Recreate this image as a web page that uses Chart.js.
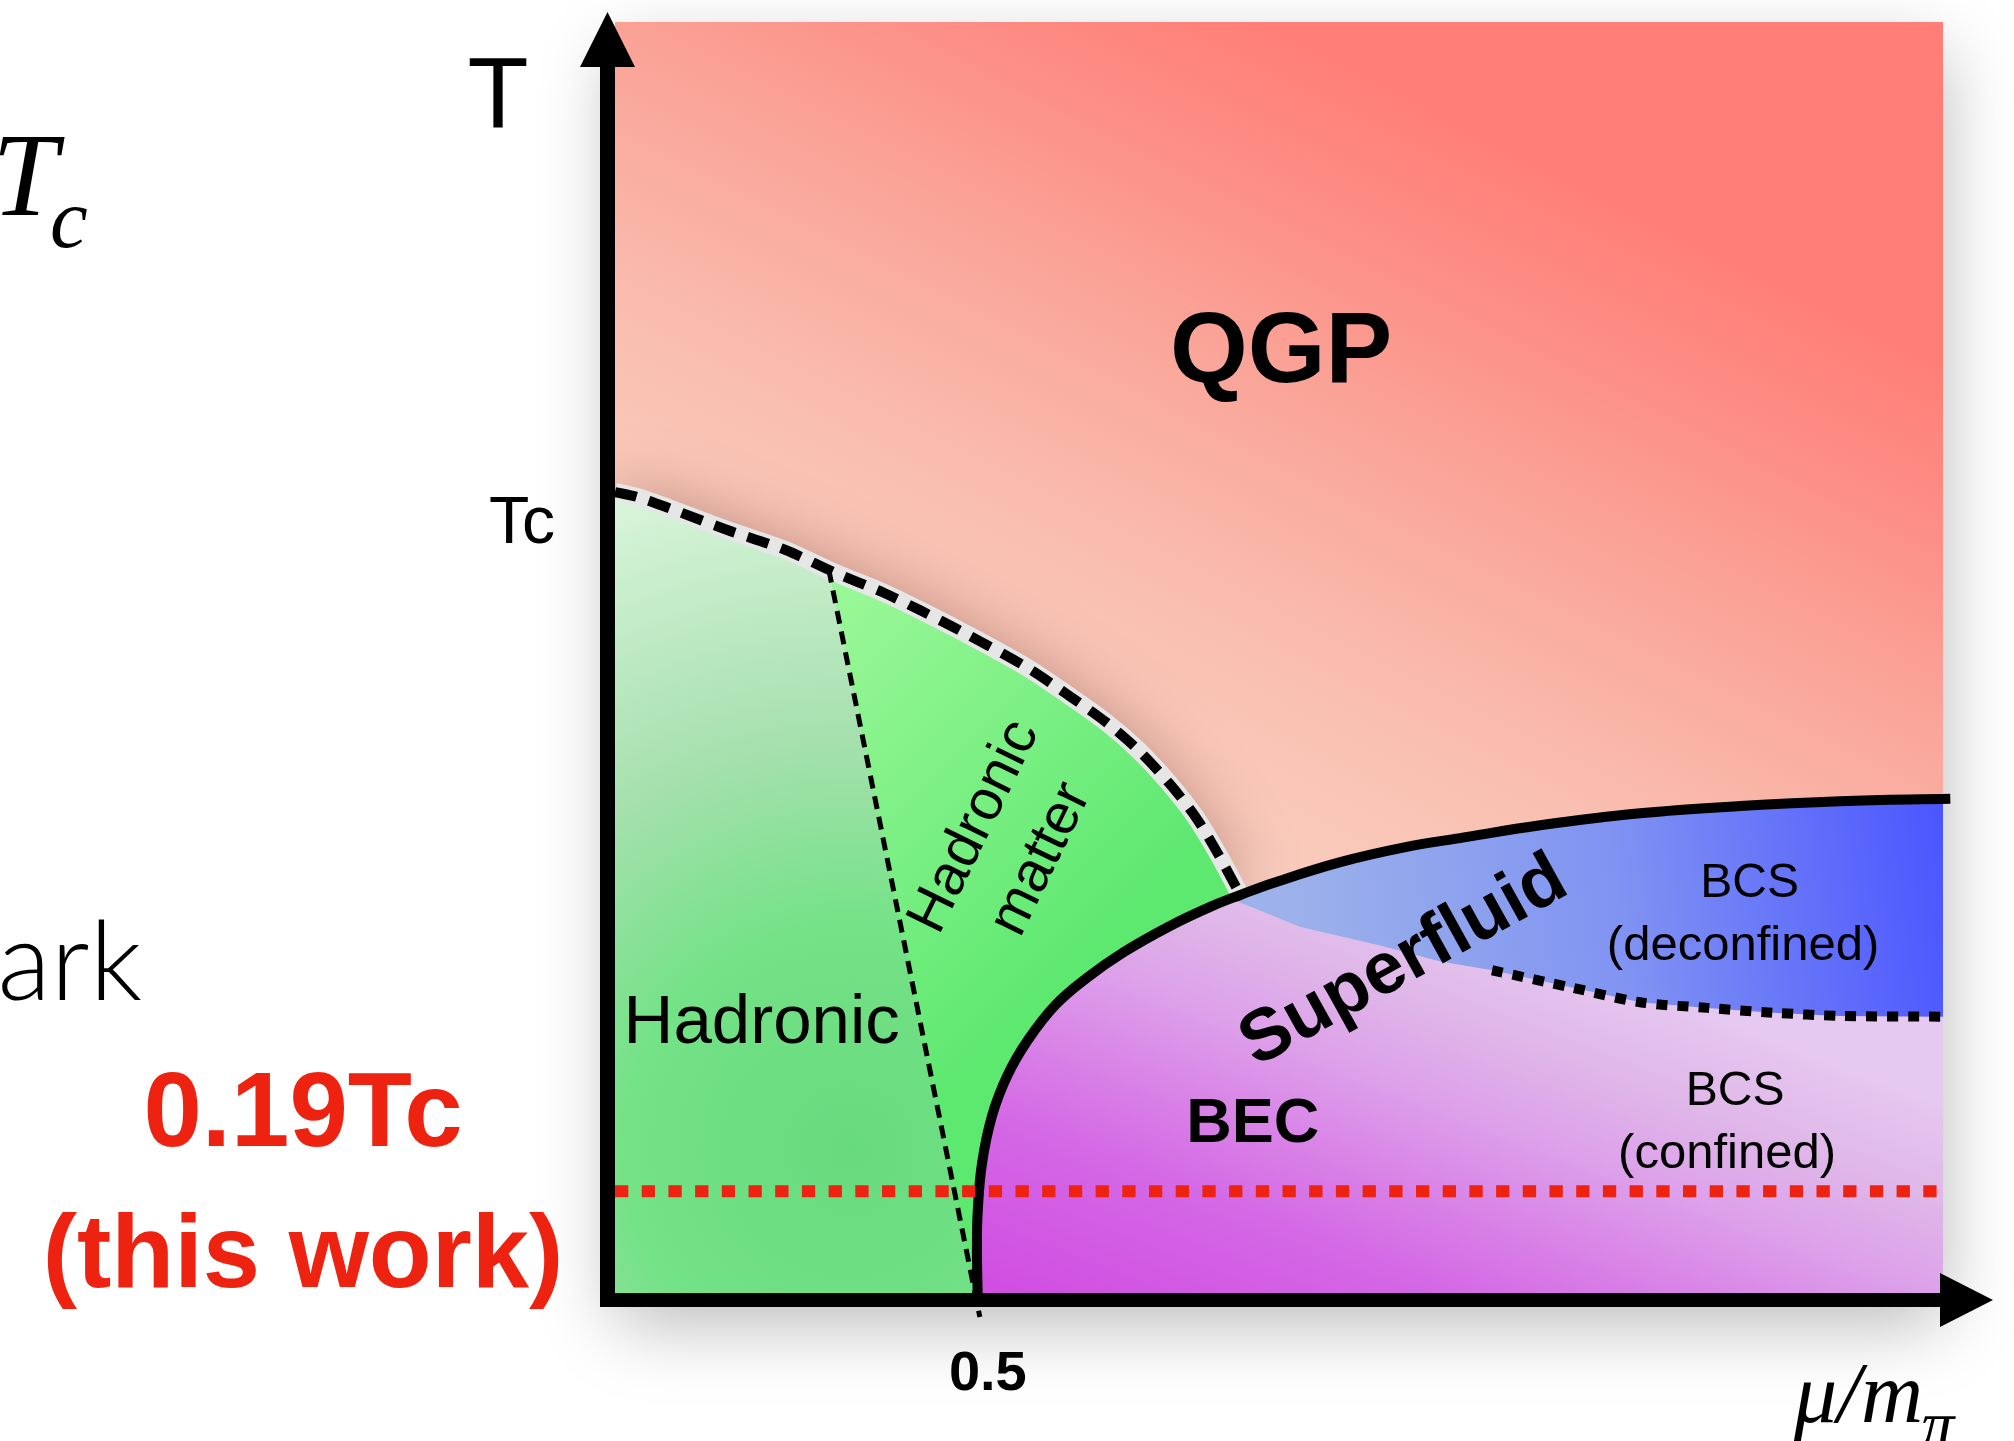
<!DOCTYPE html>
<html><head><meta charset="utf-8">
<script src="https://cdn.jsdelivr.net/npm/chart.js@4.4.1/dist/chart.umd.min.js"></script>
<style>html,body{margin:0;padding:0;background:#fff;overflow:hidden}canvas{display:block}</style>
</head><body>
<canvas id="c" width="2014" height="1441" style="width:2014px;height:1441px"></canvas>
<script>
// ---------- data (mu / m_pi  vs  T / Tc) ----------
const muMax = 1.82;
const tMax = 1.587;

// crossover (dashed) line from the T axis to the superfluid boundary
const crossMu = [0.000, 0.030, 0.074, 0.153, 0.233, 0.300, 0.369, 0.417, 0.471, 0.563, 0.625, 0.674, 0.717, 0.759, 0.796, 0.826, 0.851, 0.857];
const crossT  = [1.000, 0.994, 0.980, 0.953, 0.928, 0.900, 0.874, 0.853, 0.828, 0.782, 0.744, 0.712, 0.678, 0.637, 0.594, 0.549, 0.507, 0.497];

// superfluid (BEC) solid boundary
const becMu = [0.497, 0.496, 0.497, 0.503, 0.517, 0.538, 0.566, 0.604, 0.646, 0.698, 0.760, 0.818, 0.857, 0.902, 0.994, 1.085, 1.158, 1.268, 1.405, 1.542, 1.679, 1.830];
const becT  = [0.000, 0.054, 0.100, 0.162, 0.222, 0.272, 0.316, 0.360, 0.393, 0.426, 0.458, 0.483, 0.497, 0.512, 0.538, 0.557, 0.568, 0.584, 0.599, 0.608, 0.614, 0.617];

// lower edge of the deconfined BCS region (dotted part starts at mu = 1.202)
const bcsMu = [0.850, 0.939, 1.048, 1.131, 1.202, 1.313, 1.405, 1.497, 1.587, 1.679, 1.820];
const bcsT  = [0.490, 0.457, 0.434, 0.414, 0.403, 0.381, 0.363, 0.356, 0.350, 0.346, 0.345];
const bcsDottedFrom = 1.202;

// hadronic / hadronic-matter separation (thin dashed)
const hadronMu = [0.293, 0.500];
const hadronT  = [0.903, -0.030];

// this work: T = 0.19 Tc line (position on the schematic axis)
const thisWorkT = 0.127;

// ticks
const xTicks = [0.5];   const xTickLabels = ['0.5'];
const yTicks = [1.0];   const yTickLabels = ['Tc'];

// region labels (anchored in data coordinates)
const labelText = ['QGP', 'Hadronic', 'BEC', 'BCS', '(deconfined)', 'BCS', '(confined)'];
const labelMu   = [0.913, 0.201, 0.874, 1.555, 1.546, 1.535, 1.524];
const labelT    = [1.137, 0.312, 0.1885, 0.494, 0.416, 0.235, 0.156];

// ---------- build geometry from the arrays ----------
const P = (mus, ts) => mus.map((m, i) => ({x: m, y: ts[i]}));
const cross = P(crossMu, crossT);
const bec = P(becMu, becT);
const bcs = P(bcsMu, bcsT);
const hadronLine = P(hadronMu, hadronT);
const J = becMu.indexOf(crossMu[crossMu.length - 1]);           // junction index
const hb = {x: hadronMu[0] + (hadronMu[1] - hadronMu[0]) * (hadronT[0] / (hadronT[0] - hadronT[1])), y: 0};

const qgpPoly = [{x: 0, y: 0}, {x: 0, y: tMax}, {x: muMax, y: tMax}, {x: muMax, y: 0}];
const hadronPoly = [{x: 0, y: 0}, ...cross, ...bec.slice(0, J).reverse()];
const wedgePoly = [hadronLine[0], ...cross.filter(p => p.x > hadronMu[0]), ...bec.slice(0, J).reverse(), hb];
const pinkPoly = [...bec.slice(0, J + 1), ...bcs, {x: muMax, y: 0}];
const bluePoly = [...bec.slice(J), ...bcs.slice().reverse()];
const bcsDotted = bcs.filter(p => p.x >= bcsDottedFrom);
const redLine = [{x: 0, y: thisWorkT}, {x: muMax, y: thisWorkT}];

// ---------- gradients ----------
function lin(ctx, a, b, stops) {
  const ch = ctx.chart; if (!ch.chartArea) return stops[0][1];
  const X = ch.scales.x, Y = ch.scales.y;
  const g = ch.ctx.createLinearGradient(X.getPixelForValue(a[0]), Y.getPixelForValue(a[1]), X.getPixelForValue(b[0]), Y.getPixelForValue(b[1]));
  stops.forEach(s => g.addColorStop(s[0], s[1]));
  return g;
}
function rad(ctx, c, r, stops) {
  const ch = ctx.chart; if (!ch.chartArea) return stops[0][1];
  const X = ch.scales.x, Y = ch.scales.y;
  const px = X.getPixelForValue(c[0]), py = Y.getPixelForValue(c[1]);
  const g = ch.ctx.createRadialGradient(px, py, 0, px, py, r);
  stops.forEach(s => g.addColorStop(s[0], s[1]));
  return g;
}

const fillDs = (data, bg) => ({data, fill: 'shape', backgroundColor: bg, borderColor: 'rgba(0,0,0,0)', borderWidth: 0, pointRadius: 0, tension: 0});

const datasets = [
  fillDs(qgpPoly, c => lin(c, [0.459, 0.665], [0.952, 1.554], [[0, '#F9CFC0'], [0.3, '#F9BFB0'], [0.6, '#FAA599'], [0.8, '#FC9087'], [1, '#FF7F78']])),
  fillDs(hadronPoly, c => rad(c, [0.322, 0.179], 750, [[0, '#68DA7E'], [0.3, '#74E287'], [0.55, '#A6E0AE'], [0.9, '#D6F3D8'], [1, '#DCF5DE']])),
  fillDs(wedgePoly, c => lin(c, [0.322, 0.865], [0.733, 0.491], [[0, '#98F796'], [1, '#5DE870']])),
  fillDs(pinkPoly, c => lin(c, [1.054, -0.177], [1.311, 0.426], [[0, '#D04FE1'], [0.3, '#D468E5'], [0.45, '#D880E6'], [0.65, '#DDA2EA'], [0.8, '#DFB6E8'], [1, '#E6C9F0']])),
  fillDs(bluePoly, c => lin(c, [0.911, 0.516], [1.820, 0.628], [[0, '#9DB2EA'], [0.5, '#8093F2'], [1, '#4B55FF']])),
  {data: cross, borderColor: '#E6E6E6', borderWidth: 18, pointRadius: 0, tension: 0.3, fill: false},
  {data: cross, borderColor: '#000', borderWidth: 10, borderDash: [22, 13], borderCapStyle: 'butt', pointRadius: 0, tension: 0.3, fill: false},
  {data: hadronLine, borderColor: '#000', borderWidth: 5, borderDash: [13, 8], pointRadius: 0, tension: 0, fill: false, clip: false},
  {data: bcsDotted, borderColor: '#000', borderWidth: 10, borderDash: [11, 10], pointRadius: 0, tension: 0.3, fill: false},
  {data: bec, borderColor: '#000', borderWidth: 10, pointRadius: 0, tension: 0.4, fill: false, clip: false},
  {data: redLine, borderColor: '#EE2211', borderWidth: 12, borderDash: [13.3, 13.4], pointRadius: 0, tension: 0, fill: false}
];
datasets.forEach((d, i) => { d.order = 100 - i; d.pointHoverRadius = 0; });

const SANS = '"Liberation Sans", "Helvetica Neue", Helvetica, Arial, sans-serif';
const SERIF = '"Liberation Serif", "Times New Roman", Times, serif';
const labelFont = ['bold 100px', '69px', 'bold 63px', '48px', '49px', '48px', '49px'];

function txt(ctx, s, x, y, font, color, align, base, rot) {
  ctx.save();
  ctx.font = font; ctx.fillStyle = color || '#000';
  ctx.textAlign = align || 'center'; ctx.textBaseline = base || 'alphabetic';
  ctx.translate(x, y); if (rot) ctx.rotate(rot * Math.PI / 180);
  ctx.fillText(s, 0, 0);
  ctx.restore();
}

const deco = {
  id: 'deco',
  beforeDatasetsDraw(chart) {
    const {ctx, chartArea: a} = chart;
    ctx.save();
    ctx.shadowColor = 'rgba(0,0,0,0.28)';
    ctx.shadowBlur = 70; ctx.shadowOffsetY = 30;
    ctx.fillStyle = '#fff';
    ctx.fillRect(a.left, a.top, a.right - a.left, a.bottom - a.top);
    ctx.restore();
  },
  afterDatasetDraw(chart, args) {
    if (args.index === 0) { chart.ctx.shadowColor = 'rgba(120,70,60,0.55)'; chart.ctx.shadowBlur = 70; }
  },
  beforeDatasetDraw(chart, args) {
    if (args.index === 1) { chart.ctx.shadowColor = 'rgba(0,0,0,0)'; chart.ctx.shadowBlur = 0; }
  },
  afterDatasetsDraw(chart) {
    const {ctx, chartArea: a} = chart;
    const X = chart.scales.x, Y = chart.scales.y;
    const L = a.left, B = a.bottom;
    ctx.save();
    ctx.fillStyle = '#000';
    // T axis with arrow
    ctx.fillRect(L - 15, a.top + 40, 15, B + 14 - (a.top + 40));
    ctx.beginPath(); ctx.moveTo(L - 7.5, a.top - 10); ctx.lineTo(L - 35, a.top + 45); ctx.lineTo(L + 20, a.top + 45); ctx.closePath(); ctx.fill();
    // mu axis with arrow
    ctx.fillRect(L - 15, B, a.right + 2 - (L - 15), 14);
    ctx.beginPath(); ctx.moveTo(a.right + 50, B + 7); ctx.lineTo(a.right - 3, B - 20); ctx.lineTo(a.right - 3, B + 34); ctx.closePath(); ctx.fill();
    ctx.restore();

    // ticks
    xTicks.forEach((v, i) => txt(ctx, xTickLabels[i], X.getPixelForValue(v) + 8, B + 97, 'bold 56px ' + SANS));
    yTicks.forEach((v, i) => txt(ctx, yTickLabels[i], L - 60, Y.getPixelForValue(v) + 51, '66px ' + SANS, '#000', 'right'));
    // axis titles
    txt(ctx, 'T', L - 117, a.top + 105, '100px ' + SANS);
    ctx.save();
    ctx.font = 'italic 86px ' + SERIF; ctx.fillStyle = '#000'; ctx.textAlign = 'left'; ctx.textBaseline = 'alphabetic';
    const mx = a.right - 149, my = B + 129;
    ctx.fillText('\u03BC/m', mx, my);
    const w = ctx.measureText('\u03BC/m').width;
    ctx.font = 'italic 66px ' + SERIF;
    ctx.fillText('\u03C0', mx + w - 2, my + 24);
    ctx.restore();

    // region labels
    labelText.forEach((s, i) => txt(ctx, s, X.getPixelForValue(labelMu[i]), Y.getPixelForValue(labelT[i]), labelFont[i] + ' ' + SANS));
    // rotated labels
    const hx = X.getPixelForValue(0.5386), hy = Y.getPixelForValue(0.5618);
    ctx.save();
    ctx.translate(hx, hy); ctx.rotate(-64 * Math.PI / 180);
    ctx.font = '57px ' + SANS; ctx.fillStyle = '#000'; ctx.textAlign = 'center'; ctx.textBaseline = 'middle';
    ctx.fillText('Hadronic', 0, -37); ctx.fillText('matter', 0, 37);
    ctx.restore();
    txt(ctx, 'Superfluid', X.getPixelForValue(1.0813), Y.getPixelForValue(0.4132), 'bold 73px ' + SANS, '#000', 'center', 'middle', -29);

    // cropped text at the left of the figure
    txt(ctx, 'T', -8, 215, 'italic 118px ' + SERIF, '#000', 'left');
    txt(ctx, 'c', 50, 247, 'italic 85px ' + SERIF, '#000', 'left');
    txt(ctx, 'ark', 142, 1000, '300 110px Lato, ' + SANS, '#000', 'right');
    txt(ctx, '0.19Tc', 303, 1146, 'bold 105px ' + SANS, '#EE2211');
    txt(ctx, '(this work)', 303, 1287, 'bold 103px ' + SANS, '#EE2211');
  }
};

new Chart(document.getElementById('c'), {
  type: 'line',
  data: {datasets},
  options: {
    responsive: false, animation: false, devicePixelRatio: 1, events: [],
    layout: {padding: {left: 615, right: 71, top: 22, bottom: 148}},
    scales: {
      x: {type: 'linear', min: 0, max: muMax, display: false},
      y: {type: 'linear', min: 0, max: tMax, display: false}
    },
    plugins: {legend: {display: false}, tooltip: {enabled: false}}
  },
  plugins: [deco]
});
</script>
</body></html>
